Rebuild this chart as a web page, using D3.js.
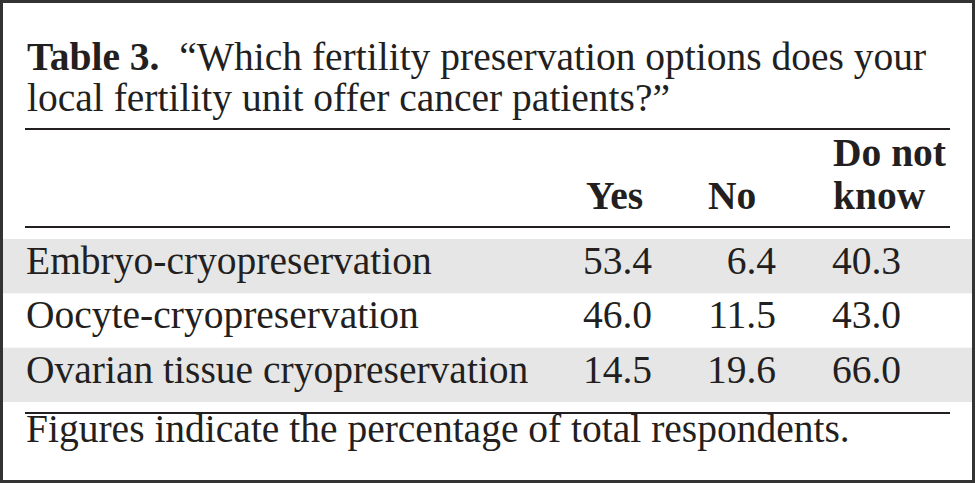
<!DOCTYPE html>
<html><head><meta charset="utf-8">
<script src="https://cdn.jsdelivr.net/npm/d3@7"></script>
<style>html,body{margin:0;padding:0;background:#fff;}</style>
</head><body>
<script>
const titleBold = "Table 3.";
const titleLines = ["\u201CWhich fertility preservation options does your", "local fertility unit offer cancer patients?\u201D"];
const columns = ["Yes", "No", "Do not know"];
const rowLabels = ["Embryo-cryopreservation", "Oocyte-cryopreservation", "Ovarian tissue cryopreservation"];
const yesValues = [53.4, 46.0, 14.5];
const noValues = [6.4, 11.5, 19.6];
const dontKnowValues = [40.3, 43.0, 66.0];
const footnote = "Figures indicate the percentage of total respondents.";

const W = 976, H = 483;
const ink = "#231f20";
const font = "'Liberation Serif','Times New Roman',serif";
const fs = 39.5;
const svg = d3.select("body").append("svg").attr("width", W).attr("height", H);

// outer frame
svg.append("rect").attr("x", 1.5).attr("y", 1.5).attr("width", W - 4).attr("height", H - 3)
  .attr("fill", "#fff").attr("stroke", "#333").attr("stroke-width", 3);

const rowY = d3.scaleBand().domain(rowLabels).range([239, 402]).paddingInner(0);
// shaded rows
svg.selectAll("rect.shade").data(rowLabels.filter((d, i) => i % 2 === 0)).join("rect")
  .attr("class", "shade").attr("x", 3).attr("width", W - 7)
  .attr("y", d => rowY(d)).attr("height", rowY.bandwidth()).attr("fill", "#e6e6e6");

// rules
[129, 227, 413].forEach(y => {
  svg.append("line").attr("x1", 25).attr("x2", 950).attr("y1", y).attr("y2", y)
    .attr("stroke", ink).attr("stroke-width", 2);
});

// title
const t1 = svg.append("text").attr("x", 27).attr("y", 70).attr("font-family", font)
  .attr("font-size", fs).attr("fill", ink);
t1.append("tspan").attr("font-weight", "bold").text(titleBold);
t1.append("tspan").text("\u00A0 " + titleLines[0]);
svg.append("text").attr("x", 27).attr("y", 111).attr("font-family", font)
  .attr("font-size", fs).attr("fill", ink).text(titleLines[1]);

// column headers
const colX = { "Yes": 586, "No": 708, "Do not know": 833 };
const hdr = svg.append("g").attr("font-family", font).attr("font-size", fs)
  .attr("font-weight", "bold").attr("fill", ink);
hdr.append("text").attr("x", colX["Yes"]).attr("y", 209).text("Yes");
hdr.append("text").attr("x", colX["No"]).attr("y", 209).text("No");
hdr.append("text").attr("x", colX["Do not know"]).attr("y", 166).text("Do not");
hdr.append("text").attr("x", colX["Do not know"]).attr("y", 209).text("know");

// rows
const body = svg.append("g").attr("font-family", font).attr("font-size", fs).attr("fill", ink);
const baselineOff = 35;
body.selectAll("text.lab").data(rowLabels).join("text").attr("class", "lab")
  .attr("x", 26).attr("y", d => rowY(d) + baselineOff).text(d => d);
const series = [
  { vals: yesValues, right: 652 },
  { vals: noValues, right: 776 },
  { vals: dontKnowValues, right: 901 }
];
series.forEach(s => {
  body.selectAll(null).data(s.vals).join("text")
    .attr("x", s.right).attr("text-anchor", "end")
    .attr("y", (d, i) => rowY(rowLabels[i]) + baselineOff)
    .text(d => d.toFixed(1));
});

// footnote
svg.append("text").attr("x", 26).attr("y", 442).attr("font-family", font)
  .attr("font-size", fs).attr("fill", ink).text(footnote);
</script>
</body></html>
